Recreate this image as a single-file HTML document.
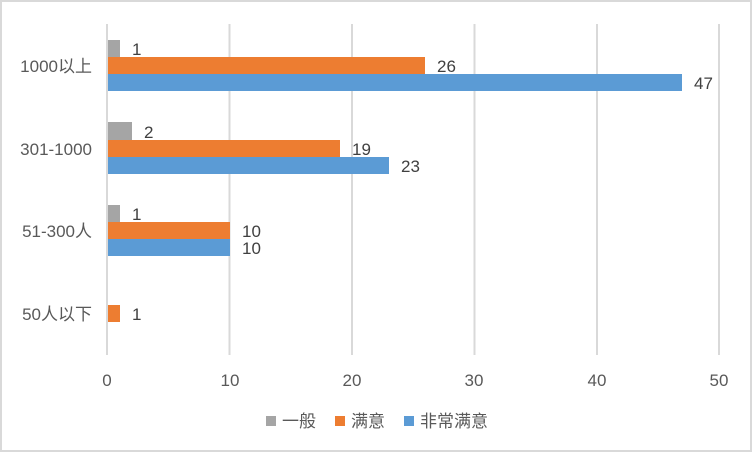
<!DOCTYPE html>
<html><head><meta charset="utf-8"><style>
body{margin:0;background:#fff}
svg text{font-family:"Liberation Sans","Noto Sans CJK SC",sans-serif;fill:#595959;font-size:17px}
</style></head><body>
<svg width="752" height="452" xmlns="http://www.w3.org/2000/svg">
<rect x="1" y="1" width="750" height="450" fill="#fff" stroke="#d9d9d9" stroke-width="2"/>
<g stroke="#d9d9d9" stroke-width="2">
<line x1="107" y1="24" x2="107" y2="355"/><line x1="229.5" y1="24" x2="229.5" y2="355"/>
<line x1="352" y1="24" x2="352" y2="355"/><line x1="474.5" y1="24" x2="474.5" y2="355"/>
<line x1="597" y1="24" x2="597" y2="355"/><line x1="719" y1="24" x2="719" y2="355"/>
</g>
<g>
<rect x="108" y="40" width="12" height="17" fill="#a5a5a5"/>
<rect x="108" y="57" width="317" height="17" fill="#ed7d31"/>
<rect x="108" y="74" width="574" height="17" fill="#5b9bd5"/>
<rect x="108" y="122" width="24" height="18" fill="#a5a5a5"/>
<rect x="108" y="140" width="232" height="17" fill="#ed7d31"/>
<rect x="108" y="157" width="281" height="17" fill="#5b9bd5"/>
<rect x="108" y="205" width="12" height="17" fill="#a5a5a5"/>
<rect x="108" y="222" width="122" height="17" fill="#ed7d31"/>
<rect x="108" y="239" width="122" height="17" fill="#5b9bd5"/>
<rect x="108" y="305" width="12" height="17" fill="#ed7d31"/>
</g>
<g>
<text x="132" y="55" style="fill:#404040">1</text>
<text x="437" y="72" style="fill:#404040">26</text>
<text x="694" y="89" style="fill:#404040">47</text>
<text x="144" y="138" style="fill:#404040">2</text>
<text x="352" y="155" style="fill:#404040">19</text>
<text x="401" y="172" style="fill:#404040">23</text>
<text x="132" y="220" style="fill:#404040">1</text>
<text x="242" y="237" style="fill:#404040">10</text>
<text x="242" y="254" style="fill:#404040">10</text>
<text x="132" y="320" style="fill:#404040">1</text>
</g>
<g text-anchor="end">
<text x="92" y="72">1000以上</text>
<text x="92" y="155">301-1000</text>
<text x="92" y="237">51-300人</text>
<text x="92" y="320">50人以下</text>
</g>
<g text-anchor="middle">
<text x="107" y="386">0</text><text x="230" y="386">10</text><text x="352" y="386">20</text>
<text x="474" y="386">30</text><text x="597" y="386">40</text><text x="719" y="386">50</text>
</g>
<rect x="266" y="416" width="10" height="10" fill="#a5a5a5"/><text x="282" y="427">一般</text>
<rect x="335" y="416" width="10" height="10" fill="#ed7d31"/><text x="351" y="427">满意</text>
<rect x="404" y="416" width="10" height="10" fill="#5b9bd5"/><text x="420" y="427">非常满意</text>
</svg>
</body></html>
